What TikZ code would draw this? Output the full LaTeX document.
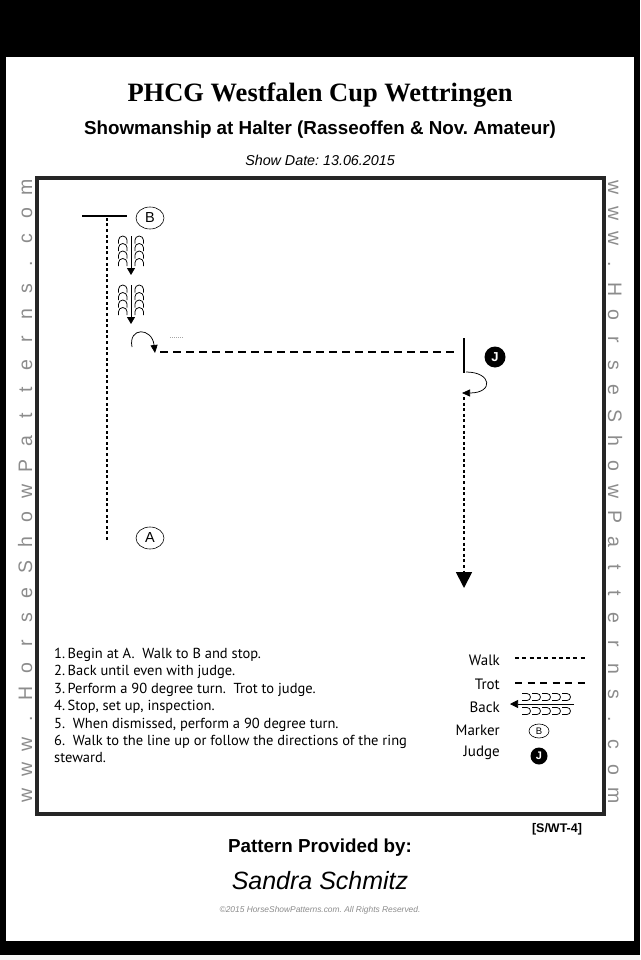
\documentclass[tikz,border=0pt]{standalone}
\usepackage{fontspec}
\setmainfont{Liberation Serif}
\newfontfamily\arialfont{Liberation Sans}
\newfontfamily\myriadfont{PT Sans}
\usetikzlibrary{arrows.meta,positioning,shapes.geometric}
\frenchspacing

\tikzset{
  walk/.style={line width=1.8pt, dash pattern=on 3pt off 2.6pt},
  trot/.style={line width=1.8pt, dash pattern=on 8pt off 5pt},
  thinline/.style={line width=0.75pt},
  marker/.style={draw, ellipse, line width=0.6pt, minimum width=28pt, minimum height=22pt,
    inner sep=0pt, font=\arialfont\fontsize{14.5}{14.5}\selectfont},
  judgemark/.style={circle, fill=black, text=white, minimum size=21pt, inner sep=0pt,
    font=\arialfont\bfseries\fontsize{13}{13}\selectfont},
  sidetext/.style={text=black!45, anchor=base, inner sep=0pt, font=\arialfont\fontsize{19.5}{19.5}\selectfont},
  legendlabel/.style={anchor=east, inner sep=0pt, font=\myriadfont\fontsize{15}{15}\selectfont},
  % backing symbol, arrow pointing down
  backdown/.pic={
    \foreach \k in {0,...,3} {
      \draw[thinline] (-12.5,{\k*7.5+7.5}) -- (-12.5,{\k*7.5+4.3}) arc[start angle=180, end angle=360, radius=4.3] -- (-3.9,{\k*7.5+7.5});
      \draw[thinline] (3.9,{\k*7.5+7.5}) -- (3.9,{\k*7.5+4.3}) arc[start angle=180, end angle=360, radius=4.3] -- (12.5,{\k*7.5+7.5});
    }
    \draw[thinline, -{Triangle[width=8pt,length=7pt]}] (0,0) -- (0,39);
  },
}

\begin{document}
\begin{tikzpicture}[x=1pt,y=-1pt]
  % page
  \fill[black] (0,0) rectangle (640,960);
  \fill[white] (6,57) rectangle (634,941);
  \fill[black!3] (0,955) rectangle (640,960);
  \useasboundingbox (0,0) rectangle (640,960);

  % headings
  \node[font=\bfseries\fontsize{26.5}{26.5}\selectfont] (title) at (320,95) {PHCG Westfalen Cup Wettringen};
  \node[font=\arialfont\bfseries\fontsize{18.8}{18.8}\selectfont] (subtitle) at (320,130) {Showmanship at Halter (Rasseoffen \& Nov. Amateur)};
  \node[font=\arialfont\itshape\fontsize{14.3}{14.3}\selectfont] (date) at (320,160) {Show Date: 13.06.2015};

  % arena frame
  \draw[line width=4pt, black!85] (37,178) rectangle (604,814);

  % side lettering
  \foreach \ch [count=\i from 0] in {w,w,w,.,H,o,r,s,e,S,h,o,w,P,a,t,t,e,r,n,s,.,c,o,m} {
    \node[sidetext, rotate=90] (sideL\i) at (32,{795-25.3*\i}) {\ch};
    \node[sidetext, rotate=-90] (sideR\i) at (608,{188+25.3*\i}) {\ch};
  }

  % markers
  \coordinate (bLeft) at (82,216);
  \coordinate (bRight) at (127,216);
  \draw[line width=1.5pt] (bLeft) -- (bRight);
  \node[marker] (markerB) at (150,218) {B};
  \node[marker] (markerA) at (150,538) {A};

  % walk A to B
  \coordinate (start) at (107,540);
  \coordinate (stopB) at (107,217);
  \draw[walk] (start) -- (stopB);

  % back
  \pic at (131,236) {backdown};
  \pic at (131,285) {backdown};

  % turn and trot to judge
  \coordinate (turnA) at (132,347);
  \coordinate (turnB) at (155,353);
  \draw[thinline, -{Triangle[width=7pt,length=8pt]}] (turnA) .. controls (128,327) and (152,327) .. (turnB);
  \draw[black!35, line width=0.5pt, dash pattern=on 1pt off 1pt] (170,337) -- (183,337);
  \coordinate (trotStart) at (160,352);
  \coordinate (trotEnd) at (456,352);
  \draw[trot] (trotStart) -- (trotEnd);

  % judge
  \coordinate (jTop) at (464,338);
  \coordinate (jBottom) at (464,373);
  \draw[line width=1.5pt] (jTop) -- (jBottom);
  \node[judgemark] (judge) at (495,357) {J};

  % turn and walk away
  \coordinate (turnC) at (466,372);
  \coordinate (turnD) at (462,393);
  \draw[thinline, -{Triangle[width=7pt,length=8pt]}] (turnC) .. controls (492,372) and (494,393) .. (turnD);
  \coordinate (exitStart) at (464,397);
  \coordinate (exitEnd) at (464,588);
  \draw[walk, -{Triangle[width=16pt,length=16pt]}] (exitStart) -- (exitEnd);

  % instructions
  \node[anchor=north west, inner sep=0pt, align=left, font=\myriadfont\fontsize{14.5}{17.4}\selectfont] (steps) at (54,648)
    {1.\,Begin at A.\ \ Walk to B and stop.\\
     2.\,Back until even with judge.\\
     3.\,Perform a 90 degree turn.\ \ Trot to judge.\\
     4.\,Stop, set up, inspection.\\
     5.\ \ When dismissed, perform a 90 degree turn.\\
     6.\ \ Walk to the line up or follow the directions of the ring\\
     steward.};

  % legend
  \node[legendlabel] (walkLabel) at (500,660) {Walk};
  \node[legendlabel] (trotLabel) at (500,684) {Trot};
  \node[legendlabel] (backLabel) at (500,707) {Back};
  \node[legendlabel] (markerLabel) at (500,730) {Marker};
  \node[legendlabel] (judgeLabel) at (500,753) {Judge};
  \draw[walk, line width=1.3pt, dash pattern=on 4pt off 3.3pt] (515,658) -- (587,658);
  \draw[trot, line width=1.3pt, dash pattern=on 7pt off 5.5pt] (515,683) -- (587,683);
  \coordinate (backTail) at (574,704);
  \coordinate (backTip) at (510,704);
  \draw[thinline, -{Triangle[width=8pt,length=8pt]}] (backTail) -- (backTip);
  \foreach \c in {527,537,547,557,567} {
    \draw[thinline] (\c-5,693.5) -- (\c,693.5) arc[start angle=270, end angle=450, radius=3.5] -- (\c-5,700.5);
    \draw[thinline] (\c-5,707.5) -- (\c,707.5) arc[start angle=270, end angle=450, radius=3.5] -- (\c-5,714.5);
  }
  \node[marker, minimum width=20pt, minimum height=14pt, font=\arialfont\fontsize{9.5}{9.5}\selectfont] (legendMarker) at (539,731) {B};
  \node[judgemark, minimum size=17pt, font=\arialfont\bfseries\fontsize{11}{11}\selectfont] (legendJudge) at (539,756) {J};

  % footer
  \node[font=\arialfont\bfseries\fontsize{12.5}{12.5}\selectfont] (code) at (557,829) {[S/WT-4]};
  \node[font=\arialfont\bfseries\fontsize{18.8}{18.8}\selectfont] (providedBy) at (320,848) {Pattern Provided by:};
  \node[font=\arialfont\itshape\fontsize{25}{25}\selectfont] (author) at (320,881) {Sandra Schmitz};
  \node[text=black!45, font=\arialfont\itshape\fontsize{8.4}{8.4}\selectfont] (copyright) at (320,910) {©2015 HorseShowPatterns.com. All Rights Reserved.};
\end{tikzpicture}
\end{document}
